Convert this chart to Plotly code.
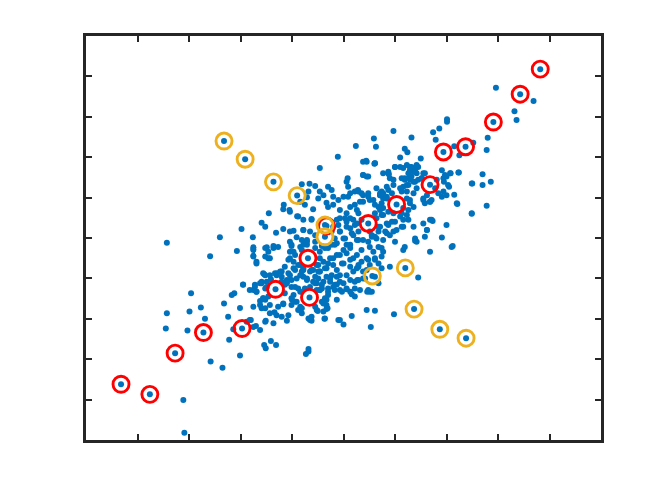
import plotly.graph_objects as go

# ── Data (axis units -5..5) ──────────────────────────────────────────────────

# blue sample points, upper half of the cloud
upper_pts = [
    (-3.43, -0.12), (-2.40, 0.02), (-1.98, 0.22), (-1.76, 0.02), (-1.45, 0.61),
    (-1.59, 0.38), (-1.16, 0.82), (-1.05, 0.69), (-0.90, 0.54), (-0.81, 1.33),
    (-0.66, 1.34), (-0.55, 1.29), (-0.46, 1.73), (-0.30, 1.27), (-0.11, 2.01),
    (0.08, 1.48), (0.24, 2.28), (0.44, 1.91), (0.59, 2.46), (0.63, 2.26),
    (0.60, 1.84), (0.38, 1.56), (0.48, 1.52),
    (2.96, 3.72), (3.69, 3.39), (3.32, 3.14), (3.36, 2.92), (2.01, 2.94),
    (2.01, 2.88), (1.86, 2.71), (1.74, 2.62), (1.79, 2.43), (0.97, 2.65),
    (1.32, 2.49), (2.80, 2.48), (2.52, 2.36), (2.78, 2.18), (2.15, 2.27),
    (2.25, 2.05), (1.50, 1.97), (1.19, 2.21), (1.24, 2.12), (1.10, 1.99),
    (0.88, 1.58), (0.97, 1.44), (2.70, 1.58), (2.86, 1.39), (2.50, 1.35),
    (2.70, 1.31), (2.24, 1.62), (2.08, 1.60), (2.00, 1.52), (1.95, 1.39),
    (2.05, 1.27), (2.15, 1.07), (2.78, 0.80), (2.49, 0.60), (2.21, 0.84),
    (1.91, 1.02), (1.73, 0.42), (1.62, 0.20), (1.91, 0.01), (2.12, -0.20),
    (1.39, -0.07), (0.06, 1.39), (0.09, 1.02), (0.29, 1.15), (0.71, 1.11),
    (0.77, 0.98), (0.87, 1.64), (1.10, 1.76), (1.23, 1.81), (1.29, 1.68),
    (1.42, 1.76), (1.32, 1.52), (1.45, 1.44), (1.13, 1.48),
]

# blue sample points, centre of the cloud
center_pts = [
    (0.61, 1.85), (0.45, 1.89), (0.87, 1.60), (1.00, 1.76), (1.32, 1.76),
    (1.36, 1.64), (1.42, 1.60), (1.45, 1.76), (1.26, 1.60), (1.19, 1.48),
    (1.29, 1.44), (1.39, 1.39), (1.26, 1.31), (1.16, 1.27), (1.13, 1.15),
    (1.23, 1.15), (1.42, 1.23), (1.58, 1.60), (1.52, 1.48), (1.91, 1.68),
    (1.97, 1.56), (2.07, 1.60), (2.23, 1.62), (1.94, 1.48), (2.03, 1.31),
    (1.84, 1.11), (1.94, 1.15), (2.00, 1.06), (1.55, 0.98), (1.68, 0.90),
    (2.20, 0.86), (2.49, 1.35), (2.49, 0.61), (1.71, 0.45), (2.00, 0.32),
    (0.84, 1.27), (0.74, 1.15), (0.71, 1.06), (0.84, 1.02), (0.94, 1.11),
    (0.28, 1.19), (0.38, 1.06), (0.48, 1.11), (0.51, 0.94), (0.32, 0.90),
    (0.61, 0.82), (0.74, 0.86), (0.71, 0.69), (0.87, 0.65), (0.77, 0.57),
    (0.64, 0.49), (0.29, 0.61), (0.35, 0.45), (0.22, 0.32), (0.87, 0.32),
    (1.00, 0.40), (1.16, 0.45), (1.13, 0.61), (1.26, 0.69), (1.36, 0.77),
    (1.29, 0.86), (1.23, 0.98), (0.68, 0.28), (0.81, 0.16), (0.90, 0.07),
    (1.00, -0.09), (0.77, -0.05), (0.61, 0.03), (0.48, -0.09), (0.29, -0.05),
    (1.19, -0.22), (1.39, -0.01), (1.42, -0.09), (1.58, 0.03), (1.03, 0.20),
    (1.16, 0.28), (1.71, 0.94), (1.58, 0.86),
    (-0.23, 1.19), (-0.46, 1.15), (-0.68, 1.15), (-0.71, 1.01), (-0.49, 0.98),
    (-0.75, 0.82), (-0.59, 0.71), (-1.17, 0.71), (-1.04, 0.65), (-0.88, 0.53),
    (-0.62, 0.45), (-1.52, 0.28), (-1.31, 0.13), (-1.17, 0.22), (-1.04, 0.16),
    (-0.97, 0.18), (-0.78, 0.20), (-0.81, -0.05), (-0.91, 0.02), (-0.71, -0.09),
    (-1.36, -0.20), (-1.49, -0.23), (-1.75, -0.23), (-1.01, -0.20), (-0.33, 0.87),
    (-0.30, 0.77), (-0.20, 0.82), (-0.07, 0.69), (0.06, 0.61), (0.03, 0.49),
    (0.19, 0.45), (0.26, 0.69), (0.13, 0.77), (0.22, 0.82), (0.09, 1.27),
    (0.13, 1.11), (0.00, 1.02), (0.22, 1.15), (-0.13, 0.45), (-0.20, 0.28),
    (-0.07, 0.16), (0.06, 0.28), (0.16, 0.12), (0.26, -0.05), (0.13, -0.17),
    (-0.13, -0.13), (0.00, -0.01), (-0.55, -0.25), (-0.42, -0.20), (-0.30, -0.25),
    (-0.84, 0.90), (-0.39, 1.06), (-0.20, 1.02), (-0.10, 0.94),
]

# blue sample points, lower half of the cloud
lower_pts = [
    (-1.75, -0.27), (-1.75, -0.44), (-1.69, -0.59), (-1.52, -0.25), (-1.46, -0.50),
    (-1.36, -0.25), (-1.04, -0.34), (-0.94, -0.42), (-0.97, -0.59), (-1.07, -0.54),
    (-0.84, -0.67), (-0.94, -0.79), (-0.81, -0.83), (-0.65, -0.83), (-0.52, -0.67),
    (-0.46, -0.83), (-0.36, -0.75), (-0.30, -0.63), (-0.20, -0.50), (-0.07, -0.42),
    (0.06, -0.38), (0.19, -0.50), (0.00, -0.63), (0.13, -0.71), (0.26, -0.75),
    (-0.13, -0.79), (-0.07, -0.92), (-0.23, -0.92), (-0.33, -0.96), (-0.49, -1.00),
    (-0.59, -1.08), (-0.42, -1.16), (-0.26, -1.08), (-0.17, -1.16), (-0.07, -1.08),
    (0.13, -1.04), (0.22, -1.25), (0.06, -1.25), (-0.07, -1.29), (-0.30, -1.25),
    (-0.42, -1.25), (-0.71, -1.04), (-0.78, -0.96), (-0.91, -1.00), (-1.04, -0.92),
    (-1.20, -0.83), (-1.30, -0.92), (-1.52, -0.92), (-1.59, -1.08), (-1.72, -1.16),
    (-1.95, -1.16), (-1.82, -1.29), (-1.69, -1.33), (-1.14, -1.16), (-1.01, -1.21),
    (-0.88, -1.25), (-1.10, -1.04), (-1.20, -1.08), (-1.49, -1.21), (-1.56, -1.49),
    (-1.46, -1.45), (-1.62, -1.66), (-1.52, -1.74), (-1.17, -1.62), (-1.01, -1.49),
    (-0.91, -1.58), (-0.88, -1.78), (-0.81, -1.86), (-1.30, -1.91), (-1.20, -1.95),
    (-1.07, -1.91), (-1.43, -1.86), (-1.36, -2.11), (-1.52, -2.07), (-0.62, -1.95),
    (-0.65, -2.03), (-0.39, -1.82), (-0.52, -1.78), (-0.42, -1.58), (-0.36, -1.49),
    (-0.33, -1.66), (-0.46, -1.29), (-0.30, -1.41), (-0.13, -1.53), (-0.10, -2.03),
    (0.00, -2.14), (-0.36, -1.99), (0.22, -1.45), (-1.88, -2.07), (-1.75, -2.20),
    (-1.82, -2.03),
    (0.74, -0.25), (0.77, -0.34), (0.74, -0.46), (0.61, -0.54), (0.48, -0.54),
    (0.35, -0.59), (0.29, -0.67), (0.68, -0.63), (0.74, -0.75), (0.90, -0.71),
    (0.38, -0.83), (0.29, -1.04), (0.42, -1.00), (0.61, -0.96), (1.45, -0.98),
    (1.16, -0.30), (1.68, -0.34), (2.10, -0.22), (0.48, -1.29), (0.55, -1.33),
    (0.45, -1.78), (0.61, -1.80), (0.98, -1.89), (0.53, -2.20), (0.16, -1.93),
    (-0.07, -2.03), (-0.37, -2.00), (-0.68, -2.81), (-0.73, -2.87), (0.51, -1.33),
    (0.16, -1.39), (0.06, -1.27), (0.27, -1.04), (-0.31, -1.74), (-0.39, -1.62),
    (-0.33, -1.53),
    (-2.59, -0.45), (-2.07, -0.32), (-3.43, -1.86), (-3.45, -2.24), (-2.99, -1.82),
    (-2.96, -1.37), (-3.03, -2.29), (-2.77, -1.72), (-2.69, -2.00), (-2.32, -1.62),
    (-2.17, -1.41), (-2.12, -1.37), (-1.95, -1.15), (-2.01, -1.73), (-2.24, -1.95),
    (-2.14, -2.26), (-2.22, -2.52), (-2.58, -3.06), (-2.35, -3.21), (-2.01, -2.91),
    (-3.11, -4.01), (-3.09, -4.82), (-1.80, -2.03), (-1.70, -2.18), (-1.62, -2.28),
    (-1.54, -2.65), (-1.51, -2.73), (-1.41, -2.55), (-1.31, -2.65), (-1.51, -2.05),
    (-1.34, -1.84), (-1.10, -2.05), (-1.17, -1.64), (-1.59, -1.74), (-1.62, -1.56),
    (-1.52, -1.53), (-1.75, -1.29), (-1.59, -1.12), (-1.54, -0.90), (-1.41, -1.02),
    (-1.29, -0.87), (-1.20, -0.96), (-1.10, -1.08), (-1.00, -1.53), (-0.81, -1.74),
    (-0.68, -1.99), (-0.62, -2.05), (-0.68, -2.75), (-0.50, -1.81), (-0.33, -1.76),
    (-0.13, -1.15), (-0.17, -1.29), (0.46, -1.33),
]

# extra blue points in the dense core (read from close-ups)
core_pts = [
    (-0.78, 0.45), (-0.62, 0.47), (-0.78, 0.20), (-0.65, 0.16), (-0.55, 0.07),
    (-0.71, -0.05), (-0.55, -0.09), (-0.78, -0.17), (-0.81, -0.30), (-0.46, -0.34),
    (-0.36, -0.25), (-0.23, -0.17), (-0.17, -0.01), (-0.23, 0.16), (-0.07, 0.16),
    (-0.10, 0.32), (0.06, 0.40), (0.13, 0.49), (0.26, 0.36), (0.13, 0.24),
    (0.03, -0.01), (0.19, 0.07), (0.29, 0.16), (0.38, -0.05), (0.55, 0.07),
    (0.64, -0.01), (0.13, -0.25), (0.00, -0.30), (-0.13, -0.42), (-0.26, -0.50),
    (-0.39, -0.59), (-0.49, -0.67), (-0.59, -0.79), (-0.46, -0.83), (-0.33, -0.75),
    (-0.20, -0.67), (-0.03, -0.63), (0.13, -0.54), (0.26, -0.42), (0.35, -0.30),
    (0.45, -0.50), (0.29, -0.71), (0.19, -0.83), (0.06, -0.92), (-0.13, -0.96),
    (-0.26, -1.00), (-0.39, -1.08), (-0.52, -1.12), (-0.71, -1.00), (-0.78, -0.75),
    (-0.75, -1.25), (-0.46, -1.29), (-0.20, -1.21), (0.00, -1.12), (0.22, -1.08),
    (0.38, -1.00), (0.51, -0.67), (0.61, -0.50), (0.58, -0.34), (0.51, -0.22),
    (0.68, -0.22), (0.45, -0.79), (0.68, -1.12), (0.32, -1.29), (0.13, -1.33),
    (-0.03, -1.33), (-0.30, -1.33), (-0.07, 0.49), (-0.17, -0.17), (0.06, -0.17),
    (-0.46, -0.50),
    (0.38, 1.89), (0.61, 1.85), (1.00, 1.76), (1.16, 1.73), (1.29, 1.76),
    (1.39, 1.68), (1.29, 1.52), (1.19, 1.44), (1.36, 1.39), (1.23, 1.31),
    (1.10, 1.23), (0.97, 1.31), (0.87, 1.19), (0.90, 1.48), (0.77, 1.60),
    (0.38, 1.56), (0.45, 1.52), (0.64, 1.23), (0.71, 1.06), (0.77, 1.11),
    (0.84, 0.98), (0.35, 1.11), (0.48, 1.02), (0.58, 0.94), (0.38, 0.90),
    (0.68, 0.77), (0.77, 0.74), (0.74, 0.57), (0.61, 0.61), (1.16, 0.74),
    (1.23, 0.57), (1.26, 0.45), (1.10, 0.53), (0.97, 0.61), (0.94, 0.40),
    (0.84, 0.36), (0.71, 0.28), (0.68, 0.16), (0.84, 0.12), (0.97, 0.16),
    (1.13, 0.28), (1.36, 0.28), (1.62, 0.20), (1.68, 0.45), (1.55, 0.36),
    (1.55, 0.94), (1.68, 0.90), (1.62, 1.06), (1.78, 1.23), (1.81, 1.44),
    (1.52, 1.48), (1.55, 1.60), (1.42, 1.81), (1.36, 1.11), (1.29, 0.94),
    (0.51, 0.16), (0.55, 0.03),
    (-1.75, -0.30), (-1.75, -0.46), (-1.69, -0.63), (-1.52, -0.46), (-1.46, -0.34),
    (-1.43, -0.50), (-1.27, -0.22), (-1.01, -0.17), (-0.97, -0.34), (-1.04, -0.50),
    (-1.14, -0.71), (-1.23, -0.83), (-1.33, -0.87), (-1.43, -0.92), (-1.56, -0.87),
    (-1.49, -1.08), (-1.62, -1.12), (-1.72, -1.21), (-1.69, -1.33), (-1.52, -1.25),
    (-1.07, -0.87), (-0.97, -0.75), (-0.88, -0.67), (-0.78, -0.79), (-0.84, -0.92),
    (-1.01, -1.04), (-0.94, -1.21), (-1.10, -1.12), (-1.14, -1.37), (-0.97, -1.41),
    (-0.84, -1.33), (-0.55, -0.96), (-0.62, -0.79), (-0.49, -0.83), (-0.55, -1.12),
    (-0.65, -1.21), (-0.52, -1.29), (-1.56, -1.49), (-1.75, -1.70), (-1.43, -1.66),
    (-1.27, -1.70), (-1.01, -1.66), (-0.94, -1.58), (-0.55, -1.70), (-0.84, -1.70),
    (-0.84, -0.22), (-0.71, -0.17), (-1.04, -0.09),
]

# red ringed points along the rising diagonal
red_x = [3.82, 3.43, 2.91, 2.37, 1.94, 1.68, 1.03, 0.48, -0.33, -0.69,
         -0.66, -1.32, -1.97, -2.72, -3.27, -3.76, -4.32]
red_y = [4.18, 3.56, 2.87, 2.26, 2.13, 1.32, 0.83, 0.36, 0.30, -0.50,
         -1.47, -1.27, -2.24, -2.34, -2.85, -3.87, -3.62]

# orange ringed points along the falling diagonal
orange_x = [-2.32, -1.91, -1.36, -0.90, -0.36, -0.36, 0.56, 1.20, 1.37, 1.87, 2.38]
orange_y = [2.40, 1.95, 1.39, 1.05, 0.32, 0.03, -0.94, -0.74, -1.76, -2.26, -2.48]

BLUE   = "#0072BD"
RED    = "#FF0000"
ORANGE = "#EDB120"
AXIS   = "#262626"

# ── Figure ───────────────────────────────────────────────────────────────────

pts = upper_pts + center_pts + lower_pts + core_pts
dot_x = [p[0] for p in pts] + red_x + orange_x
dot_y = [p[1] for p in pts] + red_y + orange_y

fig = go.Figure()

fig.add_trace(go.Scatter(
    x=dot_x, y=dot_y, mode="markers",
    marker=dict(color=BLUE, size=6, line=dict(width=0)),
    hoverinfo="skip", showlegend=False,
))
fig.add_trace(go.Scatter(
    x=red_x, y=red_y, mode="markers",
    marker=dict(symbol="circle-open", size=16, color=RED, line=dict(width=2.9, color=RED)),
    showlegend=False,
))
fig.add_trace(go.Scatter(
    x=orange_x, y=orange_y, mode="markers",
    marker=dict(symbol="circle-open", size=16, color=ORANGE, line=dict(width=2.9, color=ORANGE)),
    showlegend=False,
))

axis_style = dict(
    range=[-5, 5], dtick=1, tick0=-5,
    showticklabels=False, showgrid=False, zeroline=False,
    ticks="inside", ticklen=6, tickwidth=2, tickcolor=AXIS,
    showline=True, linewidth=2.5, linecolor=AXIS, mirror="ticks",
)

# the page body adds an 8px offset, so margins are trimmed to match
fig.update_layout(
    width=664, height=498,
    margin=dict(l=78, r=71, t=28, b=66),
    paper_bgcolor="white", plot_bgcolor="white",
    xaxis=axis_style, yaxis=axis_style,
)

fig.write_html("out.html")
